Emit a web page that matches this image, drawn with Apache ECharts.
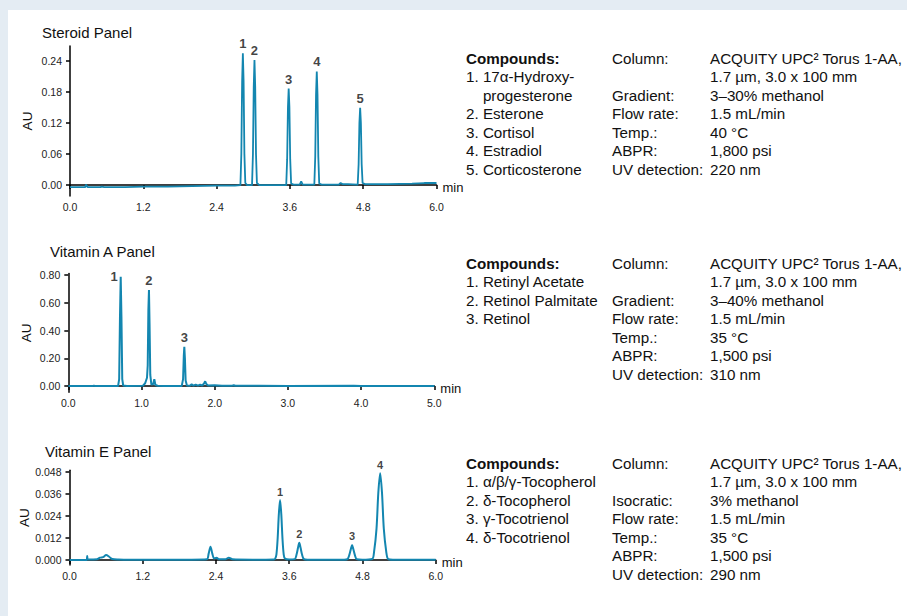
<!DOCTYPE html>
<html>
<head>
<meta charset="utf-8">
<script src="https://cdn.jsdelivr.net/npm/echarts@6/dist/echarts.min.js"></script>
<style>
html, body { margin: 0; padding: 0; background: #e4ecf3; }
#chart { width: 907px; height: 616px; }
</style>
</head>
<body>
<div id="chart"></div>
<script>
// traces, [time (min), AU]
const steroidTrace = [
  [0, -0.004], [0.2, -0.004], [0.25, -0.004], [0.26, 0.001], [0.27, -0.001], [0.29, -0.004],
  [0.5, -0.004], [0.52, -0.003], [0.56, -0.004], [0.9, -0.004], [1.2, -0.003], [1.6, -0.003],
  [2.0, -0.002], [2.4, -0.001], [2.7, -0.001], [2.79, 0.0],
  [2.805, 0.06], [2.818, 0.2], [2.83, 0.254], [2.842, 0.2], [2.855, 0.06], [2.87, 0.004], [2.9, 0.0], [2.98, 0.0],
  [2.995, 0.06], [3.008, 0.19], [3.02, 0.241], [3.032, 0.19], [3.045, 0.06], [3.06, 0.004], [3.1, 0.0],
  [3.54, 0.0], [3.555, 0.05], [3.568, 0.15], [3.58, 0.186], [3.592, 0.15], [3.605, 0.05], [3.62, 0.003], [3.66, 0.001],
  [3.76, 0.001], [3.785, 0.007], [3.81, 0.001],
  [4.0, 0.001], [4.015, 0.055], [4.028, 0.175], [4.04, 0.219], [4.052, 0.175], [4.065, 0.055], [4.08, 0.003], [4.12, 0.001],
  [4.4, 0.001], [4.43, 0.004], [4.46, 0.002], [4.55, 0.002],
  [4.71, 0.001], [4.725, 0.04], [4.738, 0.12], [4.75, 0.149], [4.762, 0.12], [4.775, 0.04], [4.79, 0.004], [4.83, 0.002],
  [5.2, 0.002], [5.6, 0.003], [5.8, 0.004], [6.0, 0.004]
];
const steroidPeaks = [[2.83, 0.2537, '1'], [3.02, 0.241, '2'], [3.58, 0.186, '3'], [4.04, 0.219, '4'], [4.75, 0.1495, '5']];

const vitATrace = [
  [0, 0.0], [0.34, 0.0], [0.35, 0.004], [0.36, 0.0], [0.68, 0.0],
  [0.695, 0.05], [0.706, 0.5], [0.716, 0.788], [0.726, 0.5], [0.737, 0.05], [0.75, 0.004], [0.8, 0.0],
  [1.02, 0.003], [1.05, 0.02], [1.075, 0.06], [1.085, 0.15], [1.094, 0.55], [1.102, 0.692], [1.11, 0.45],
  [1.12, 0.08], [1.135, 0.01], [1.16, 0.015], [1.175, 0.05], [1.19, 0.008], [1.22, 0.002], [1.3, 0.0],
  [1.55, 0.001], [1.568, 0.05], [1.578, 0.22], [1.585, 0.283], [1.593, 0.2], [1.603, 0.04], [1.62, 0.004],
  [1.66, 0.002], [1.685, 0.012], [1.71, 0.003], [1.74, 0.011], [1.77, 0.003], [1.8, 0.009], [1.83, 0.004],
  [1.855, 0.02], [1.87, 0.034], [1.885, 0.015], [1.91, 0.004], [2.0, 0.005], [2.1, 0.003],
  [2.24, 0.003], [2.26, 0.006], [2.28, 0.002], [2.6, 0.002], [3.0, 0.001], [3.9, 0.002], [4.0, 0.001], [5.0, 0.0]
];
const vitAPeaks = [[0.716, 0.788, '1'], [1.102, 0.692, '2'], [1.585, 0.283, '3']];

const vitETrace = [
  [0, 0.0], [0.28, 0.0], [0.29, 0.0022], [0.3, 0.0003], [0.45, 0.0004], [0.5, 0.0013], [0.55, 0.0016],
  [0.6, 0.0027], [0.65, 0.0018], [0.7, 0.0006], [0.8, 0.0003], [1.0, 0.0002], [1.5, 0.0002], [2.0, 0.0002],
  [2.25, 0.0004], [2.28, 0.0035], [2.31, 0.0073], [2.34, 0.0035], [2.37, 0.0008], [2.41, 0.0013], [2.45, 0.0004],
  [2.55, 0.0004], [2.61, 0.0013], [2.67, 0.0004], [3.0, 0.0002], [3.35, 0.0003],
  [3.37, 0.0008], [3.39, 0.003], [3.41, 0.0115], [3.43, 0.025], [3.45, 0.0327], [3.47, 0.025], [3.49, 0.0115], [3.51, 0.003], [3.53, 0.0008],
  [3.6, 0.0003], [3.69, 0.0005], [3.72, 0.003], [3.745, 0.0068], [3.765, 0.0094], [3.785, 0.0068], [3.81, 0.003], [3.84, 0.0005],
  [3.9, 0.0002], [4.5, 0.0002],
  [4.555, 0.0005], [4.585, 0.0028], [4.61, 0.006], [4.63, 0.0082], [4.65, 0.006], [4.675, 0.0028], [4.705, 0.0005], [4.8, 0.0002],
  [4.96, 0.0006], [4.99, 0.0045], [5.03, 0.017], [5.06, 0.0367], [5.09, 0.0473], [5.12, 0.0367], [5.15, 0.017], [5.19, 0.0045], [5.22, 0.0006],
  [5.3, 0.0002], [6.0, 0.0002]
];
const vitEPeaks = [[3.45, 0.0327, '1'], [3.765, 0.0094, '2'], [4.63, 0.0082, '3'], [5.09, 0.0473, '4']];

// y tick labels
const steroidTicks = [0, 0.06, 0.12, 0.18, 0.24];
const vitATicks = [0, 0.2, 0.4, 0.6, 0.8];
const vitETicks = [0, 0.012, 0.024, 0.036, 0.048];

// side notes
const panelTitles = ['Steroid Panel', 'Vitamin A Panel', 'Vitamin E Panel'];
const steroidCompounds = ['1. 17α-Hydroxy-', '\u00a0\u00a0\u00a0\u00a0progesterone', '2. Esterone', '3. Cortisol', '4. Estradiol', '5. Corticosterone'];
const steroidParams = ['Column:', '', 'Gradient:', 'Flow rate:', 'Temp.:', 'ABPR:', 'UV detection:'];
const steroidValues = ['ACQUITY UPC² Torus 1-AA,', '1.7 µm, 3.0 x 100 mm', '3–30% methanol', '1.5 mL/min', '40 °C', '1,800 psi', '220 nm'];
const vitACompounds = ['1. Retinyl Acetate', '2. Retinol Palmitate', '3. Retinol'];
const vitAParams = ['Column:', '', 'Gradient:', 'Flow rate:', 'Temp.:', 'ABPR:', 'UV detection:'];
const vitAValues = ['ACQUITY UPC² Torus 1-AA,', '1.7 µm, 3.0 x 100 mm', '3–40% methanol', '1.5 mL/min', '35 °C', '1,500 psi', '310 nm'];
const vitECompounds = ['1. α/β/γ-Tocopherol', '2. δ-Tocopherol', '3. γ-Tocotrienol', '4. δ-Tocotrienol'];
const vitEParams = ['Column:', '', 'Isocratic:', 'Flow rate:', 'Temp.:', 'ABPR:', 'UV detection:'];
const vitEValues = ['ACQUITY UPC² Torus 1-AA,', '1.7 µm, 3.0 x 100 mm', '3% methanol', '1.5 mL/min', '35 °C', '1,500 psi', '290 nm'];

const FONT = '"Liberation Sans", Arial, sans-serif';
const LINE = '#1386b0';

const chart = echarts.init(document.getElementById('chart'), null, { renderer: 'svg' });

function txt(x, y, text, size, bold) {
  return {
    type: 'text', x: x, y: y, z: 10,
    style: { text: text, fontSize: size, fontFamily: FONT, fontWeight: bold ? 'bold' : 'normal',
      fill: '#111', verticalAlign: 'middle', align: 'left' }
  };
}

function notes(y0, compounds, params, values) {
  const out = [txt(466, y0, 'Compounds:', 15.2, true)];
  compounds.forEach((c, i) => out.push(txt(466, y0 + 18.5 * (i + 1), c, 15.2)));
  params.forEach((p, i) => { if (p) out.push(txt(612, y0 + 18.5 * i, p, 15.2)); });
  values.forEach((v, i) => out.push(txt(710, y0 + 18.5 * i, v, 15.2)));
  return out;
}

const grids = [
  { left: 70, top: 46, width: 366.5, height: 150 },
  { left: 68.3, top: 273.6, width: 366, height: 118.7 },
  { left: 69.5, top: 470.3, width: 366.2, height: 94.7 }
];

function xAx(i, max, interval) {
  return {
    type: 'value', gridIndex: i, min: 0, max: max, interval: interval,
    name: 'min', nameLocation: 'end', nameGap: 6,
    nameTextStyle: { fontSize: 13, fontFamily: FONT, color: '#111', verticalAlign: 'top', padding: [-4, 0, 0, 0] },
    axisLine: { lineStyle: { color: '#000', width: 1.5 } },
    axisTick: { length: 4, lineStyle: { color: '#000', width: 1.5 } },
    axisLabel: { fontSize: 10.5, fontFamily: FONT, color: '#222', margin: 5, formatter: v => v.toFixed(1) },
    splitLine: { show: false }
  };
}

function yAx(i, min, max, ticks, digits, gap) {
  return {
    type: 'value', gridIndex: i, min: min, max: max,
    name: 'AU', nameLocation: 'middle', nameRotate: 90, nameGap: gap,
    nameTextStyle: { fontSize: 13.5, fontFamily: FONT, color: '#111' },
    axisLine: { show: true, lineStyle: { color: '#000', width: 1.5 } },
    axisTick: { show: true, length: 4, customValues: ticks, lineStyle: { color: '#000', width: 1.5 } },
    axisLabel: { fontSize: 10.5, fontFamily: FONT, color: '#222', margin: 8, customValues: ticks,
      formatter: v => v.toFixed(digits) },
    splitLine: { show: false }
  };
}

function trace(i, data, width, smooth) {
  return {
    type: 'line', xAxisIndex: i, yAxisIndex: i, data: data, showSymbol: false, symbol: 'none',
    smooth: smooth, lineStyle: { color: LINE, width: width }, animation: false, silent: true
  };
}

function peakLabels(i, peaks, size, dist, positions) {
  return {
    type: 'scatter', xAxisIndex: i, yAxisIndex: i, symbolSize: 0, animation: false, silent: true,
    data: peaks.map((p, k) => ({
      value: [p[0], p[1]],
      label: { show: true, formatter: p[2], position: positions ? positions[k] : 'top', distance: dist,
        fontSize: size, fontWeight: 'bold', fontFamily: FONT, color: '#111' }
    }))
  };
}

const graphics = [
  { type: 'rect', shape: { x: 8, y: 10, width: 899, height: 606 }, style: { fill: '#fff' }, z: -10 },
  txt(42, 32, panelTitles[0], 15),
  txt(50, 251, panelTitles[1], 15),
  txt(45, 451, panelTitles[2], 15)
].concat(
  notes(58.3, steroidCompounds, steroidParams, steroidValues),
  notes(263.3, vitACompounds, vitAParams, vitAValues),
  notes(463.3, vitECompounds, vitEParams, vitEValues)
);

chart.setOption({
  backgroundColor: '#e4ecf3',
  animation: false,
  grid: grids,
  xAxis: [xAx(0, 6, 1.2), xAx(1, 5, 1), xAx(2, 6, 1.2)],
  yAxis: [
    yAx(0, -0.021, 0.268, steroidTicks, 2, 36),
    yAx(1, -0.045, 0.81, vitATicks, 2, 35),
    yAx(2, -0.0027, 0.0489, vitETicks, 3, 37)
  ],
  series: [
    trace(0, steroidTrace, 1.8, false),
    trace(1, vitATrace, 2, false),
    trace(2, vitETrace, 2, 0.3),
    peakLabels(0, steroidPeaks, 13, 3),
    peakLabels(1, vitAPeaks, 13, 3, ['left', 'top', 'top']),
    peakLabels(2, vitEPeaks, 11, 3)
  ],
  graphic: graphics
});
</script>
</body>
</html>
